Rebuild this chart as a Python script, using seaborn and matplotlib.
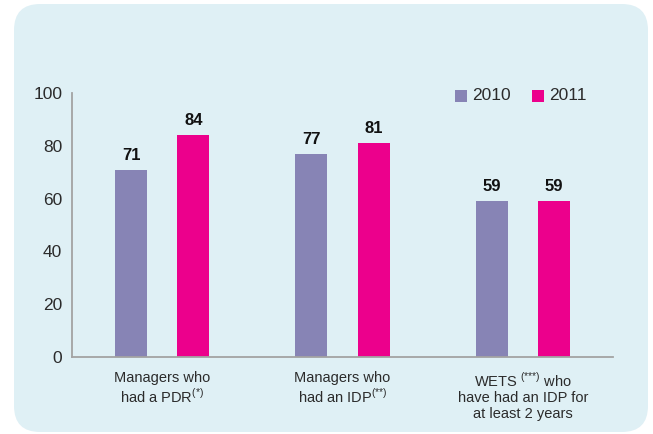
import matplotlib
matplotlib.use("Agg")
import matplotlib.pyplot as plt
from matplotlib import font_manager
from matplotlib.patches import FancyBboxPatch
import seaborn as sns
import pandas as pd

categories = [
    "Managers who\nhad a PDR$^{\\text{(*)}}$",
    "Managers who\nhad an IDP$^{\\text{(**)}}$",
    "WETS $^{\\text{(***)}}$ who\nhave had an IDP for\nat least 2 years",
]
years = ["2010", "2011"]
values_2010 = [71, 77, 59]
values_2011 = [84, 81, 59]
y_ticks = [0, 20, 40, 60, 80, 100]

colors = {"2010": "#8784b5", "2011": "#ec008c"}
panel_color = "#dff0f5"
text_color = "#2b2b2b"
axis_color = "#a3a3a3"

sns.set_style("white")
installed = {f.name for f in font_manager.fontManager.ttflist}
family = [f for f in ["Liberation Sans Narrow", "Liberation Sans", "DejaVu Sans"] if f in installed]
plt.rcParams["font.family"] = family
plt.rcParams["mathtext.fontset"] = "custom"
plt.rcParams["mathtext.rm"] = family[0]

df = pd.DataFrame({
    "category": categories * 2,
    "year": [years[0]] * 3 + [years[1]] * 3,
    "value": values_2010 + values_2011,
})

fig = plt.figure(figsize=(6.53, 4.34), dpi=100)
fig.patch.set_facecolor("white")

# rounded light-blue panel behind the chart
panel = FancyBboxPatch((14 / 653, 2 / 434), (648 - 14) / 653, (432 - 4) / 434,
                       boxstyle="round,pad=0,rounding_size=0.04",
                       transform=fig.transFigure, facecolor=panel_color,
                       edgecolor="none", mutation_aspect=653 / 434, zorder=-10)
fig.patches.append(panel)

ax = fig.add_axes([72 / 653, (434 - 357) / 434, (613 - 72) / 653, (357 - 93) / 434])
ax.set_facecolor("none")
ax.set_zorder(5)

sns.barplot(data=df, x="category", y="value", hue="year", palette=colors,
            width=0.69, gap=0.487, ax=ax, saturation=1, legend=False,
            linewidth=0, edgecolor="none")

for container in ax.containers:
    ax.bar_label(container, fmt="%d", padding=5, fontsize=12, fontweight="bold",
                 color="#111111", family=["Liberation Sans", "DejaVu Sans"])

ax.set_xlim(-0.5, 2.5)
ax.set_ylim(0, 100)
ax.set_yticks(y_ticks)
ax.set_xlabel("")
ax.set_ylabel("")

for side in ["top", "right"]:
    ax.spines[side].set_visible(False)
for side in ["left", "bottom"]:
    ax.spines[side].set_color(axis_color)
    ax.spines[side].set_linewidth(1.3)

ax.tick_params(axis="y", direction="in", length=9.5, width=1.3, color=axis_color,
               pad=7, labelsize=12.5, labelcolor=text_color)
ax.tick_params(axis="x", which="major", length=0, pad=10, labelsize=10.5,
               labelcolor=text_color)
ax.set_xticks([0.5, 1.5, 2.5], minor=True)
ax.tick_params(axis="x", which="minor", direction="in", length=4.5, width=1.3,
               color=axis_color)
for lbl in ax.get_xticklabels():
    lbl.set_linespacing(1.15)
    lbl.set_verticalalignment("top")

# legend squares and labels
for x0, yr in [(455 / 653, "2010"), (532 / 653, "2011")]:
    fig.patches.append(plt.Rectangle((x0, (434 - 102) / 434), 12 / 653, 12 / 434,
                                     transform=fig.transFigure,
                                     facecolor=colors[yr], edgecolor="none"))
    fig.text(x0 + 17 / 653, (434 - 96) / 434, yr, fontsize=12.5, color=text_color,
             va="center", ha="left")

fig.savefig("out.png", dpi=100, facecolor="white")
